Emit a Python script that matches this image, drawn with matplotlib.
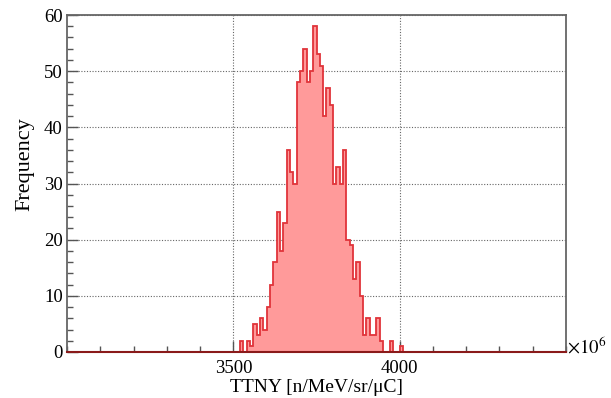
import numpy as np
import matplotlib
matplotlib.use("Agg")
import matplotlib.pyplot as plt

# ---- data ----
x_min, x_max = 3000, 4500          # axis range (in units of 1e6)
bin_width = 10
first_bin = 3520                    # left edge of the first listed bin
counts_listed = [2, 0, 2, 1, 5, 3, 6, 4, 8, 12,
                 16, 25, 18, 23, 36, 32, 30, 48, 50, 54,
                 48, 50, 58, 53, 51, 42, 47, 44, 30, 33,
                 30, 36, 20, 19, 13, 16, 10, 3, 6, 3,
                 3, 6, 2, 0, 0, 2, 0, 0, 1]
x_ticks = [3500, 4000]
x_ticklabels = ["3500", "4000"]
y_ticks = [0, 10, 20, 30, 40, 50, 60]
xlabel = "TTNY [n/MeV/sr/\u03bcC]"
ylabel = "Frequency"

# ---- build full histogram over the axis range ----
edges = np.arange(x_min, x_max + bin_width, bin_width)
counts = np.zeros(len(edges) - 1)
start = (first_bin - x_min) // bin_width
counts[start:start + len(counts_listed)] = counts_listed

plt.rcParams['font.family'] = ['Liberation Serif', 'DejaVu Serif']
plt.rcParams['mathtext.fontset'] = 'stix'

W, H = 611, 398
fig = plt.figure(figsize=(W/100, H/100), dpi=100)
ax = fig.add_axes([67/W, 1-352/H, (566-67)/W, (352-15)/H])

ax.stairs(counts, edges, fill=True, color='#ff9a9a', zorder=2)
ax.stairs(counts, edges, color='#e0343a', lw=1.3, baseline=None, zorder=3)
ax.plot([x_min, x_max], [0, 0], color='#8a1a1a', lw=1.5, zorder=4, clip_on=False)

ax.set_xlim(x_min, x_max)
ax.set_ylim(0, 60)
ax.set_xticks(x_ticks)
ax.set_xticklabels(x_ticklabels)
ax.set_xticks(np.arange(x_min, x_max + 1, 100), minor=True)
ax.set_yticks(y_ticks)
ax.set_yticks(np.arange(0, 61, 2), minor=True)

ax.set_axisbelow(True)
ax.grid(True, which='major', linestyle=(0, (1, 1.5)), color='#666666', lw=0.8)

for s in ax.spines.values():
    s.set_color('#666666')
    s.set_linewidth(1.3)

ax.tick_params(axis='both', which='major', direction='in', length=8, width=1.0,
               color='#555555', labelsize=13.5)
ax.tick_params(axis='y', which='major', pad=3)
ax.tick_params(axis='x', which='major', pad=6)
ax.tick_params(axis='both', which='minor', direction='in', length=4.5, width=1.0,
               color='#555555')

fig.text(316/W, 1-387/H, xlabel, fontsize=14, ha='center', va='center')
fig.text(25/W, 1-164/H, ylabel, fontsize=16, ha='center', va='center', rotation=90)

fig.text(567/W, 1-347/H, r'$\times10^{6}$', fontsize=13.5, ha='left', va='center')

fig.savefig("out.png", dpi=100)
